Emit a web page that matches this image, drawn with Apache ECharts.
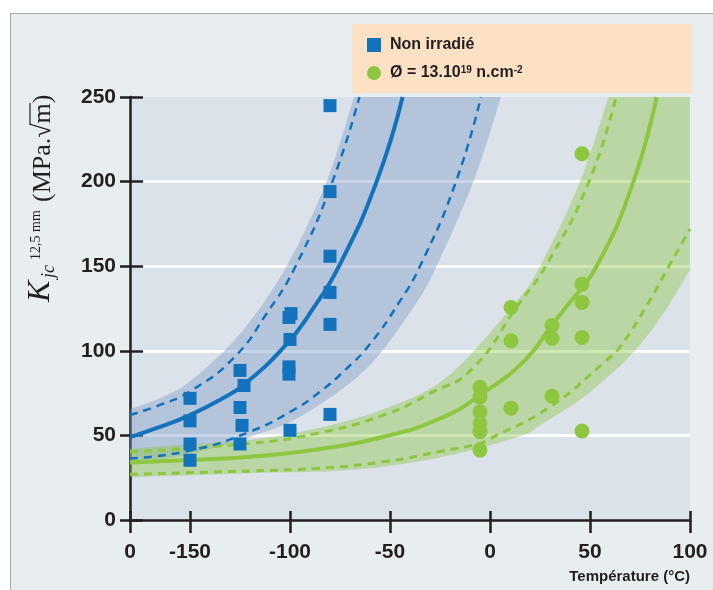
<!DOCTYPE html>
<html>
<head>
<meta charset="utf-8">
<script src="https://cdn.jsdelivr.net/npm/echarts@6/dist/echarts.min.js"></script>
<style>
html,body{margin:0;padding:0;background:#ffffff;}
#wrap{position:relative;width:713px;height:590px;overflow:hidden;background:#fff;}
#frame{position:absolute;left:10px;top:13px;width:720px;height:600px;background:#e8edf0;border:1px solid #a3abb0;}
#chart{position:absolute;left:0;top:0;width:713px;height:590px;}
</style>
</head>
<body>
<div id="wrap"><div id="frame"></div><div id="chart"></div></div>
<script>
// ---------- data ----------
const xTickValues = [-180, -150, -100, -50, 0, 50, 100];
const xTickLabels = ['0', '-150', '-100', '-50', '0', '50', '100'];
const yTickValues = [0, 50, 100, 150, 200, 250];
const yMax = 250;

const blueName = 'Non irradié';
const greenName = 'Ø = 13.10^19 n.cm^-2';

// blue squares (non irradiated)
const blueT = [-150, -150, -150, -150, -125, -123, -125, -124, -125, -99.5, -100.5, -100, -100.5, -100.5, -100, -80, -80, -80, -80, -80, -80];
const blueK = [71.9, 58.6, 44.9, 35.3, 88.4, 79.5, 66.5, 55.9, 44.9, 122, 119.7, 106.7, 90.5, 86.2, 53, 244.9, 194.1, 155.9, 134.5, 115.6, 62.4];

// green circles (irradiated)
const greenT = [-5, -5, -5, -5, -5, -5, 10.5, 10.5, 10.5, 31, 31, 31, 46, 46, 46, 46, 46];
const greenK = [78.4, 72.8, 64, 57.1, 52.2, 41.3, 125.6, 105.9, 66.1, 115, 107.3, 73.2, 216.5, 139.4, 128.6, 107.9, 52.6];

// blue curves
const blueMedT = [-180, -165, -150, -135, -123, -101.7, -89, -75.5, -56.7, -43.7];
const blueMedK = [49, 55, 62, 71, 80, 104, 124, 150, 200, 250];
const blueUpT = [-180, -165, -150, -128, -111.7, -97.2, -78.8, -65.3];
const blueUpK = [62, 68, 76, 96, 122, 150, 200, 250];
const blueLowT = [-180, -150, -120, -98.3, -85, -72.5, -60, -45.8, -35, -17, -4.5];
const blueLowK = [36.4, 41, 52.2, 65, 75.8, 88.6, 104, 128, 150, 200, 250];
// blue scatter band: upper edge (until it leaves the top) and lower edge
const blueBandHiT = [-180, -165, -150, -125, -101.7, -81.7, -68];
const blueBandHiK = [65.5, 72, 82, 110, 150, 200, 250];
const blueBandLoT = [-180, -150, -120, -95, -62.5, -38.7, -26.7, -8.3, 5.5];
const blueBandLoK = [33.5, 39, 49.2, 61, 88.6, 125, 150, 200, 250];

// green curves
const greenMedT = [-180, -150, -120, -86.7, -53.3, -25, -5, 17.5, 30.8, 37.5, 53.3, 71.7, 83.3];
const greenMedK = [34, 35.5, 37.4, 41.7, 49.2, 60, 73.8, 94.5, 115, 125, 150, 200, 250];
const greenUpT = [-180, -120, -86.7, -53.3, -30, -9.2, 14, 28.3, 49.5, 63];
const greenUpK = [40.3, 45.3, 51.2, 62, 74.8, 89, 127, 151, 200, 250];
const greenLowT = [-180, -120, -86.7, -53.3, -25, -5, 0, 30, 58.3, 65, 79, 88.3, 100];
const greenLowK = [27, 29, 30.5, 34.4, 40.5, 45.3, 48, 66.9, 94.5, 102.3, 128, 147.6, 172];
const greenBandHiT = [-180, -120, -86.7, -53.3, -22, 11, 25, 45, 59.2];
const greenBandHiK = [42.3, 47.5, 54.2, 65.5, 84, 126, 150, 200, 250];
const greenBandLoT = [-180, -120, -70, -25, 15, 25, 45, 59.2, 70, 80, 90, 100];
const greenBandLoK = [25.2, 27.6, 29.5, 37, 49.5, 56, 71, 85, 97, 111, 128, 148];

// ---------- build ----------
const zip = (a, b) => a.map((v, i) => [v, b[i]]);

const BLUE = '#1273bc';
const GREEN = '#8dc63f';
const INK = '#231f20';
const SANS = '"Liberation Sans", Arial, sans-serif';
const SERIF = '"Liberation Serif", "Times New Roman", serif';

const chart = echarts.init(document.getElementById('chart'), null, {renderer: 'canvas'});

// Catmull-Rom smoothing of pixel points into cubic bezier path commands
function smoothSegs(pts) {
  let d = '';
  for (let i = 0; i < pts.length - 1; i++) {
    const p0 = pts[i - 1] || pts[i], p1 = pts[i], p2 = pts[i + 1], p3 = pts[i + 2] || pts[i + 1];
    const c1x = p1[0] + (p2[0] - p0[0]) / 6, c1y = p1[1] + (p2[1] - p0[1]) / 6;
    const c2x = p2[0] - (p3[0] - p1[0]) / 6, c2y = p2[1] - (p3[1] - p1[1]) / 6;
    d += ' C' + c1x + ' ' + c1y + ' ' + c2x + ' ' + c2y + ' ' + p2[0] + ' ' + p2[1];
  }
  return d;
}
function bandSeries(hiT, hiK, loT, loK, color) {
  return {
    type: 'custom', coordinateSystem: 'cartesian2d', clip: true, silent: true, z: 1,
    data: [[loT[0], loK[0]]],
    renderItem: function (params, api) {
      const up = hiT.map((t, i) => api.coord([t, hiK[i]]));
      const lo = loT.map((t, i) => api.coord([t, loK[i]])).reverse();
      const topEnd = api.coord([loT[loT.length - 1], yMax]);
      let d = 'M' + up[0][0] + ' ' + up[0][1] + smoothSegs(up);
      d += ' L' + topEnd[0] + ' ' + topEnd[1];
      d += ' L' + lo[0][0] + ' ' + lo[0][1] + smoothSegs(lo) + ' Z';
      return {type: 'path', shape: {pathData: d}, style: {fill: color}};
    }
  };
}
function curve(T, K, color, width, dashed) {
  return {type: 'line', data: zip(T, K), smooth: true, symbol: 'none', silent: true, z: 3,
    lineStyle: {color: color, width: width, type: dashed ? [8, 6] : 'solid'}};
}

const axisLineStyle = {color: INK, width: 2.5};

const option = {
  backgroundColor: 'transparent',
  animation: false,
  grid: {left: 130, top: 97, width: 560, height: 423, show: true, backgroundColor: '#dbe2e9', borderWidth: 0, outerBoundsMode: 'none'},
  legend: {
    data: [blueName, greenName], orient: 'vertical', left: 367, top: 37, padding: 0,
    itemWidth: 14, itemHeight: 14, itemGap: 12, selectedMode: false,
    formatter: function (name) {
      if (name === greenName) return '{sp| }{t|Ø = 13.10}{s|19}{t| n.cm}{s|-2}';
      return '{sp| }{t|' + name + '}';
    },
    textStyle: {
      rich: {
        sp: {width: 4, fontSize: 16, lineHeight: 16},
        t: {fontSize: 16, fontWeight: 'bold', color: INK, fontFamily: SANS, lineHeight: 16},
        s: {fontSize: 10, fontWeight: 'bold', color: INK, fontFamily: SANS, verticalAlign: 'top', lineHeight: 10}
      }
    }
  },
  xAxis: [
    {type: 'value', min: -180, max: 100, position: 'bottom',
     axisLine: {show: true, onZero: false, lineStyle: axisLineStyle},
     axisTick: {show: true, customValues: xTickValues, length: 13, inside: false, lineStyle: axisLineStyle},
     axisLabel: {show: true, customValues: xTickValues, margin: 22, fontSize: 21, fontWeight: 'bold', color: INK, fontFamily: SANS,
       formatter: function (v) { const i = xTickValues.indexOf(v); return i >= 0 ? xTickLabels[i] : ''; }},
     splitLine: {show: false}},
    {type: 'value', min: -180, max: 100, position: 'bottom',
     axisLine: {show: false, onZero: false},
     axisTick: {show: true, customValues: xTickValues, length: 9, inside: true, lineStyle: axisLineStyle},
     axisLabel: {show: false}, splitLine: {show: false}}
  ],
  yAxis: [
    {type: 'value', min: 0, max: 250, interval: 50, position: 'left',
     axisLine: {show: true, onZero: false, lineStyle: axisLineStyle},
     axisTick: {show: true, length: 10, inside: false, customValues: yTickValues, lineStyle: axisLineStyle},
     axisLabel: {show: true, margin: 14, fontSize: 21, fontWeight: 'bold', color: INK, fontFamily: SANS, customValues: yTickValues},
     splitLine: {show: true, showMinLine: false, showMaxLine: false, lineStyle: {color: '#ffffff', width: 3}}},
    {type: 'value', min: 0, max: 250, interval: 50, position: 'left',
     axisLine: {show: false, onZero: false},
     axisTick: {show: true, length: 13, inside: true, customValues: yTickValues, lineStyle: axisLineStyle},
     axisLabel: {show: false}, splitLine: {show: false}}
  ],
  graphic: [
    {type: 'rect', z: -5, shape: {x: 352, y: 24, width: 340, height: 69}, style: {fill: '#fde1c4'}},
    {type: 'text', z: 10, style: {text: 'Température (°C)', x: 690, y: 577, align: 'right', verticalAlign: 'middle',
      textAlign: 'right', textVerticalAlign: 'middle', font: 'bold 15px ' + SANS, fill: INK}},
    {type: 'group', x: 52, y: 302, rotation: Math.PI / 2, z: 10, children: [
      {type: 'text', style: {text: 'K', x: 0, y: -11, align: 'left', verticalAlign: 'middle', textAlign: 'left', textVerticalAlign: 'middle',
        font: 'italic 32px ' + SERIF, fill: INK}},
      {type: 'text', style: {text: 'jc', x: 24, y: -3, align: 'left', verticalAlign: 'middle', textAlign: 'left', textVerticalAlign: 'middle',
        font: 'italic 18px ' + SERIF, fill: INK}},
      {type: 'text', style: {text: '12,5 mm', x: 42, y: -16, align: 'left', verticalAlign: 'middle', textAlign: 'left', textVerticalAlign: 'middle',
        font: '14px ' + SERIF, fill: INK}},
      {type: 'text', style: {text: '(MPa.√m)', x: 100, y: -9, align: 'left', verticalAlign: 'middle', textAlign: 'left', textVerticalAlign: 'middle',
        font: '26px ' + SERIF, fill: INK}},
      {type: 'line', shape: {x1: 177, y1: -22, x2: 199, y2: -22}, style: {stroke: INK, lineWidth: 1.2}}
    ]}
  ],
  series: [
    bandSeries(blueBandHiT, blueBandHiK, blueBandLoT, blueBandLoK, 'rgba(124,154,200,0.42)'),
    bandSeries(greenBandHiT, greenBandHiK, greenBandLoT, greenBandLoK, 'rgba(141,198,70,0.42)'),
    curve(greenUpT, greenUpK, GREEN, 3, true),
    curve(greenLowT, greenLowK, GREEN, 3, true),
    curve(greenMedT, greenMedK, GREEN, 4, false),
    curve(blueUpT, blueUpK, BLUE, 2.5, true),
    curve(blueLowT, blueLowK, BLUE, 2.5, true),
    curve(blueMedT, blueMedK, BLUE, 4, false),
    {name: blueName, type: 'scatter', data: zip(blueT, blueK), symbol: 'rect', symbolSize: 13,
     itemStyle: {color: BLUE, opacity: 1}, z: 5},
    {name: greenName, type: 'scatter', data: zip(greenT, greenK), symbol: 'circle', symbolSize: 15,
     itemStyle: {color: GREEN, opacity: 1}, z: 6}
  ]
};
chart.setOption(option);
</script>
</body>
</html>
